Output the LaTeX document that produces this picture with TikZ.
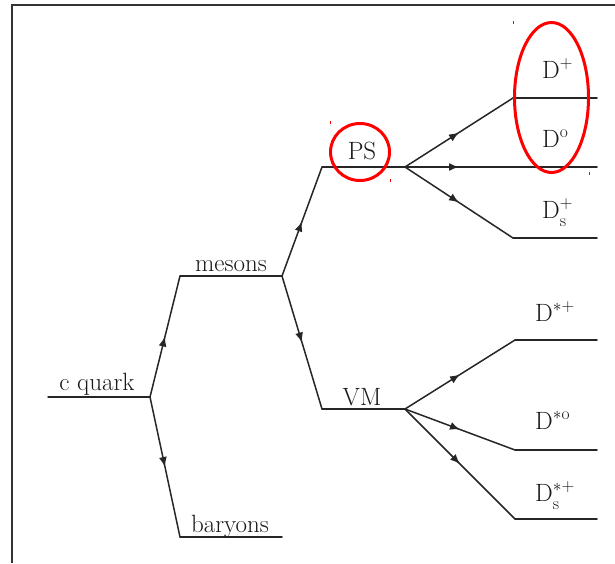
\RequirePackage{fix-cm}
\documentclass[tikz,border=0pt]{standalone}
\usepackage{fontspec}
\usetikzlibrary{decorations.markings,arrows.meta,shapes.geometric}
\newcommand{\lowsub}[1]{\raisebox{-2.5pt}{$\scriptstyle\mathrm{#1}$}}
\begin{document}
\begin{tikzpicture}[x=1pt,y=-1pt,
  wire/.style={line width=1.5pt, black!85, line cap=round},
  flow/.style={wire, postaction={decorate},
    decoration={markings, mark=at position 0.5 with {\arrow{Latex[length=10pt,width=8pt]}}}},
  lbl/.style={inner sep=0pt, font=\fontsize{25}{30}\selectfont, text=black!90, anchor=base},
  dlbl/.style={lbl, anchor=base west},
  ring/.style={draw=red, line width=3pt, ellipse, inner sep=0pt},
  tick/.style={red, line width=1pt}]
\useasboundingbox (0,0) rectangle (615,563);
\fill[white] (0,0) rectangle (615,563);
% frame
\draw[line width=1.3pt, black!80] (12,563) -- (12,5) -- (615,5);

% branch points
\coordinate (cq0) at (48,397);
\coordinate (cq)  at (150,397);
\coordinate (me0) at (180,276);
\coordinate (me)  at (282,276);
\coordinate (ba0) at (180,537);
\coordinate (ba1) at (282,537);
\coordinate (ps0) at (322,167);
\coordinate (ps)  at (405,167);
\coordinate (vm0) at (322,409);
\coordinate (vm)  at (405,409);
\coordinate (dp0) at (513,98);
\coordinate (dp1) at (597,98);
\coordinate (dz0) at (513,167);
\coordinate (dz1) at (597,167);
\coordinate (ds0) at (513,238);
\coordinate (ds1) at (597,238);
\coordinate (vp0) at (515,340);
\coordinate (vp1) at (597,340);
\coordinate (vz0) at (515,450);
\coordinate (vz1) at (597,450);
\coordinate (vs0) at (515,519);
\coordinate (vs1) at (597,519);

% decay tree
\draw[wire] (cq0) -- (cq);
\draw[flow] (cq) -- (me0);
\draw[wire] (me0) -- (me);
\draw[flow] (cq) -- (ba0);
\draw[wire] (ba0) -- (ba1);
\draw[flow] (me) -- (ps0);
\draw[wire] (ps0) -- (ps);
\draw[flow] (me) -- (vm0);
\draw[wire] (vm0) -- (vm);
\draw[flow] (ps) -- (dp0);
\draw[wire] (dp0) -- (dp1);
\draw[flow] (ps) -- (dz0);
\draw[wire] (dz0) -- (dz1);
\draw[flow] (ps) -- (ds0);
\draw[wire] (ds0) -- (ds1);
\draw[flow] (vm) -- (vp0);
\draw[wire] (vp0) -- (vp1);
\draw[flow] (vm) -- (vz0);
\draw[wire] (vz0) -- (vz1);
\draw[flow] (vm) -- (vs0);
\draw[wire] (vs0) -- (vs1);

% labels
\node[lbl] (lcq) at (97,390) {c quark};
\node[lbl] (lme) at (231,271) {mesons};
\node[lbl] (lba) at (230,532) {baryons};
\node[lbl] (lps) at (362,159) {PS};
\node[lbl] (lvm) at (362,405) {VM};
\node[dlbl] (ldp) at (542,78)  {$\mathrm{D}^{+}$};
\node[dlbl] (ldz) at (542,147) {$\mathrm{D}^{\mathrm{o}}$};
\node[dlbl] (lds) at (542,218) {$\mathrm{D}_{\lowsub{s}}^{+}$};
\node[dlbl] (lvp) at (535,321) {$\mathrm{D}^{*+}$};
\node[dlbl] (lvz) at (535,429) {$\mathrm{D}^{*\mathrm{o}}$};
\node[dlbl] (lvs) at (535,501) {$\mathrm{D}_{\lowsub{s}}^{*+}$};

% red highlights
\node[ring, minimum width=59pt, minimum height=57pt] (psring) at (360,152) {};
\node[ring, minimum width=74pt, minimum height=150pt] (dring) at (551.5,97.5) {};
\draw[tick] (330,121) -- (330,124);
\draw[tick] (390,179) -- (390,182);
\draw[tick] (513,21) -- (513,24);
\draw[tick] (589,172) -- (589,175);
\end{tikzpicture}
\end{document}
